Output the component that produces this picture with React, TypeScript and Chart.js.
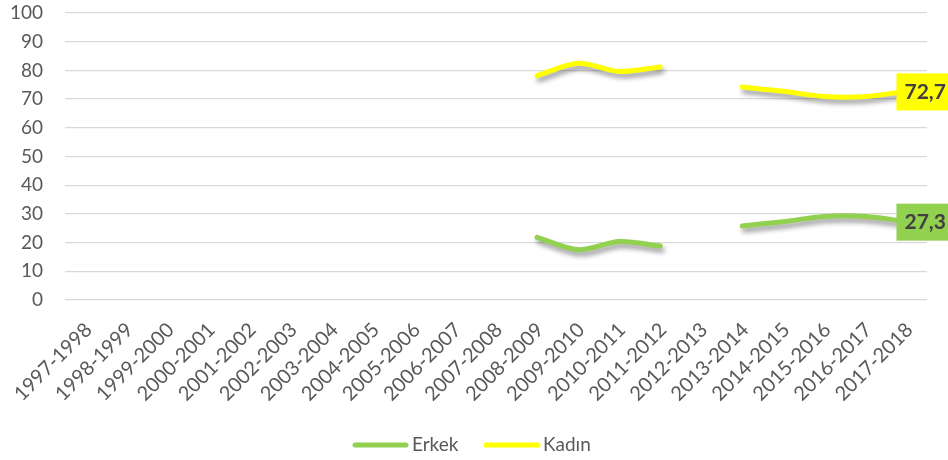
import React, { useEffect, useRef } from "react";
import { Chart, registerables } from "chart.js";

Chart.register(...registerables);

const categories = [
  "1997-1998", "1998-1999", "1999-2000", "2000-2001", "2001-2002", "2002-2003",
  "2003-2004", "2004-2005", "2005-2006", "2006-2007", "2007-2008", "2008-2009",
  "2009-2010", "2010-2011", "2011-2012", "2012-2013", "2013-2014", "2014-2015",
  "2015-2016", "2016-2017", "2017-2018",
];

const erkek: (number | null)[] = [
  null, null, null, null, null, null, null, null, null, null, null,
  21.8, 17.5, 20.4, 18.8, null, 25.8, 27.3, 29.1, 29.1, 27.3,
];

const kadin: (number | null)[] = [
  null, null, null, null, null, null, null, null, null, null, null,
  78.2, 82.5, 79.6, 81.2, null, 74.2, 72.7, 70.9, 70.9, 72.7,
];

const seriesNames = ["Erkek", "Kadın"];
const seriesColors = ["#92D050", "#FFFF00"];
const lastLabels = ["27,3", "72,7"];

const FONT = "Lato, 'DejaVu Sans', sans-serif";
const TEXT = "#595959";

const shadowPlugin = {
  id: "shadowPlugin",
  beforeDatasetDraw(chart: any) {
    const ctx = chart.ctx;
    ctx.save();
    ctx.shadowColor = "rgba(0,0,0,0.4)";
    ctx.shadowBlur = 5;
    ctx.shadowOffsetX = 2;
    ctx.shadowOffsetY = 4;
  },
  afterDatasetDraw(chart: any) {
    chart.ctx.restore();
  },
};

const labelPlugin = {
  id: "labelPlugin",
  afterDatasetsDraw(chart: any) {
    const ctx = chart.ctx;
    chart.data.datasets.forEach((ds: any, i: number) => {
      const meta = chart.getDatasetMeta(i);
      const idx = ds.data.length - 1;
      const pt = meta.data[idx];
      if (!pt) return;
      const x = pt.x;
      const y = pt.y;
      ctx.save();
      ctx.fillStyle = seriesColors[i];
      ctx.fillRect(x - 10, y - 18, 60, 37);
      ctx.fillStyle = "#404040";
      ctx.font = `bold 21px ${FONT}`;
      ctx.textAlign = "left";
      ctx.textBaseline = "middle";
      ctx.fillText(lastLabels[i], x - 2, y + 1);
      ctx.restore();
    });
  },
};

const legendPlugin = {
  id: "customLegend",
  afterDraw(chart: any) {
    const ctx = chart.ctx;
    ctx.save();
    const y = 445;
    const items = [
      { x0: 355, x1: 406, tx: 412 },
      { x0: 486, x1: 538, tx: 543 },
    ];
    items.forEach((it, i) => {
      ctx.strokeStyle = seriesColors[i];
      ctx.lineWidth = 5;
      ctx.lineCap = "round";
      ctx.beginPath();
      ctx.moveTo(it.x0, y);
      ctx.lineTo(it.x1, y);
      ctx.stroke();
      ctx.fillStyle = TEXT;
      ctx.font = `19px ${FONT}`;
      ctx.textAlign = "left";
      ctx.textBaseline = "middle";
      ctx.fillText(seriesNames[i], it.tx, y);
    });
    ctx.restore();
  },
};

export default function App() {
  const ref = useRef<HTMLCanvasElement>(null);

  useEffect(() => {
    if (!ref.current) return;
    const chart = new Chart(ref.current, {
      type: "line",
      data: {
        labels: categories,
        datasets: [
          {
            label: seriesNames[0],
            data: erkek,
            borderColor: seriesColors[0],
            backgroundColor: seriesColors[0],
            borderWidth: 5,
            pointRadius: 0,
            pointHoverRadius: 0,
            tension: 0.3,
            spanGaps: false,
            borderCapStyle: "round",
            borderJoinStyle: "round",
          },
          {
            label: seriesNames[1],
            data: kadin,
            borderColor: seriesColors[1],
            backgroundColor: seriesColors[1],
            borderWidth: 5,
            pointRadius: 0,
            pointHoverRadius: 0,
            tension: 0.3,
            spanGaps: false,
            borderCapStyle: "round",
            borderJoinStyle: "round",
          },
        ],
      },
      options: {
        responsive: false,
        animation: false,
        layout: { padding: { top: 13, right: 21, bottom: 50, left: 0 } },
        plugins: {
          legend: { display: false },
          tooltip: { enabled: false },
        },
        scales: {
          x: {
            offset: true,
            grid: { display: false, drawTicks: false },
            border: { display: false },
            ticks: {
              autoSkip: false,
              minRotation: 45,
              maxRotation: 45,
              padding: 18,
              labelOffset: 3,
              color: TEXT,
              font: { family: FONT, size: 20 },
            },
            afterFit: (s: any) => {
              s.height = 110;
              s.paddingLeft = 0;
              s.paddingRight = 0;
            },
          },
          y: {
            min: 0,
            max: 100,
            ticks: {
              stepSize: 10,
              padding: 22,
              color: TEXT,
              font: { family: FONT, size: 19 },
            },
            grid: { color: "#D9D9D9", lineWidth: 1.3, drawTicks: false },
            border: { display: false },
            afterFit: (s: any) => {
              s.width = 65;
              s.paddingTop = 0;
              s.paddingBottom = 0;
            },
          },
        },
      },
      plugins: [shadowPlugin, labelPlugin, legendPlugin],
    });
    return () => chart.destroy();
  }, []);

  return (
    <canvas
      ref={ref}
      width={948}
      height={460}
      style={{ position: "fixed", left: 0, top: 0, display: "block", background: "#fff" }}
    />
  );
}
